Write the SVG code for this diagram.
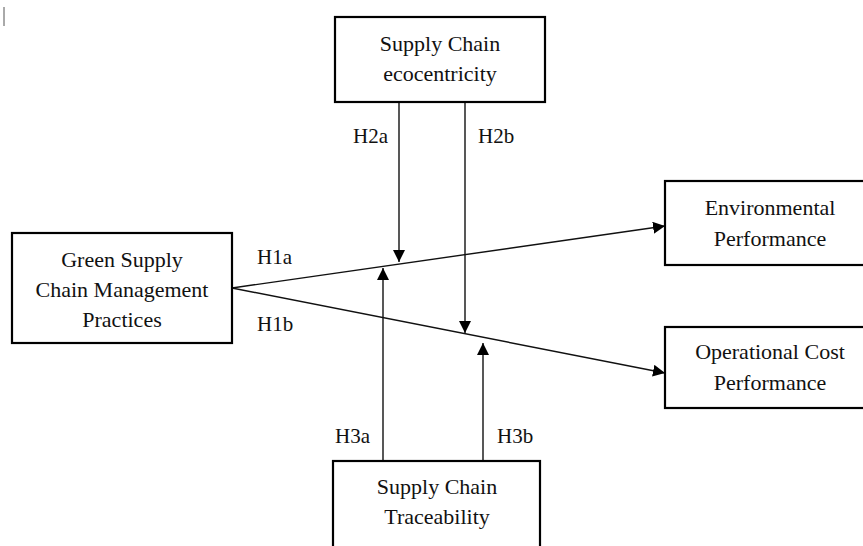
<svg xmlns="http://www.w3.org/2000/svg" width="863" height="546" viewBox="0 0 863 546">
<defs>
<style>
.box{fill:#fff;stroke:#000;stroke-width:2.2}
.t{font-family:"Liberation Serif","Times New Roman",serif;font-size:22px;fill:#111;text-anchor:middle}
.lbl{font-family:"Liberation Serif","Times New Roman",serif;font-size:21px;fill:#111}
.c{stroke:#111;stroke-width:1.4;fill:none}
</style>
<marker id="ah" viewBox="0 0 10 10" refX="10" refY="5" markerWidth="8" markerHeight="8" markerUnits="userSpaceOnUse" orient="auto">
<path d="M0,0 L10,5 L0,10 z" fill="#000"/>
</marker>
<marker id="av" viewBox="0 0 10 10" refX="10" refY="5" markerWidth="12" markerHeight="12" markerUnits="userSpaceOnUse" orient="auto">
<path d="M0,0 L10,5 L0,10 z" fill="#000"/>
</marker>
</defs>
<rect width="863" height="546" fill="#fff"/>
<line x1="4" y1="7" x2="4" y2="26" stroke="#555" stroke-width="1"/>
<g id="connectors">
<line class="c" x1="232" y1="288" x2="665" y2="226" marker-end="url(#av)"/>
<line class="c" x1="232" y1="288" x2="665" y2="373" marker-end="url(#av)"/>
<line class="c" x1="399" y1="102" x2="399" y2="262" marker-end="url(#av)"/>
<line class="c" x1="465" y1="102" x2="465" y2="333" marker-end="url(#av)"/>
<line class="c" x1="383" y1="461" x2="383" y2="268" marker-end="url(#av)"/>
<line class="c" x1="483" y1="461" x2="483" y2="343" marker-end="url(#av)"/>
<text class="lbl" x="257" y="264">H1a</text>
<text class="lbl" x="257" y="331">H1b</text>
<text class="lbl" x="353" y="143">H2a</text>
<text class="lbl" x="478" y="143">H2b</text>
<text class="lbl" x="335" y="443">H3a</text>
<text class="lbl" x="497" y="443">H3b</text>
</g>
<g id="ecocentricity">
<rect class="box" x="335" y="17" width="210" height="85"/>
<text class="t" x="440" y="51">Supply Chain</text>
<text class="t" x="440" y="81">ecocentricity</text>
</g>
<g id="gscm">
<rect class="box" x="12" y="233" width="220" height="110"/>
<text class="t" x="122" y="267">Green Supply</text>
<text class="t" x="122" y="297">Chain Management</text>
<text class="t" x="122" y="327">Practices</text>
</g>
<g id="environmental">
<rect class="box" x="665" y="181" width="210" height="84"/>
<text class="t" x="770" y="215">Environmental</text>
<text class="t" x="770" y="246">Performance</text>
</g>
<g id="operational">
<rect class="box" x="665" y="327" width="210" height="81"/>
<text class="t" x="770" y="359">Operational Cost</text>
<text class="t" x="770" y="390">Performance</text>
</g>
<g id="traceability">
<rect class="box" x="333" y="461" width="207" height="100"/>
<text class="t" x="437" y="494">Supply Chain</text>
<text class="t" x="437" y="524">Traceability</text>
</g>
</svg>
